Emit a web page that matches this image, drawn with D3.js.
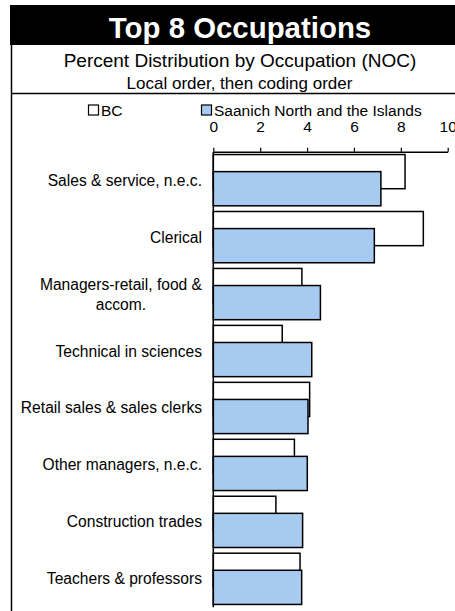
<!DOCTYPE html>
<html>
<head>
<meta charset="utf-8">
<script src="https://cdn.jsdelivr.net/npm/d3@7"></script>
<style>
  html, body { margin: 0; padding: 0; background: #fff; }
  svg { display: block; font-family: "Liberation Sans", Arial, sans-serif; }
</style>
</head>
<body>
<svg id="chart" width="455" height="611"></svg>
<script>
const titleText = "Top 8 Occupations";
const subtitleText = "Percent Distribution by Occupation (NOC)";
const subtitle2Text = "Local order, then coding order";
const seriesNames = ["BC", "Saanich North and the Islands"];
const seriesColors = ["#ffffff", "#a6caf0"];
const categories = [
  "Sales & service, n.e.c.",
  "Clerical",
  "Managers-retail, food & accom.",
  "Technical in sciences",
  "Retail sales & sales clerks",
  "Other managers, n.e.c.",
  "Construction trades",
  "Teachers & professors"
];
const bcValues = [8.18, 8.96, 3.78, 2.94, 4.11, 3.46, 2.67, 3.70];
const localValues = [7.15, 6.87, 4.57, 4.20, 4.04, 4.01, 3.81, 3.77];
const tickValues = [0, 2, 4, 6, 8, 10];

const svg = d3.select("#chart");

// Frame and title band
svg.append("rect").attr("x", 10).attr("y", 5).attr("width", 460).attr("height", 40).attr("fill", "#000");
svg.append("text").attr("x", 240).attr("y", 38).attr("text-anchor", "middle")
  .attr("fill", "#fff").attr("font-weight", "bold").attr("font-size", 29.4).text(titleText);
svg.append("line").attr("x1", 11.5).attr("x2", 11.5).attr("y1", 45).attr("y2", 611)
  .attr("stroke", "#000").attr("stroke-width", 1.5);
svg.append("text").attr("x", 240).attr("y", 67).attr("text-anchor", "middle")
  .attr("font-size", 19).attr("fill", "#000").text(subtitleText);
svg.append("text").attr("x", 239.5).attr("y", 89.3).attr("text-anchor", "middle")
  .attr("font-size", 17).attr("fill", "#000").text(subtitle2Text);
svg.append("line").attr("x1", 11).attr("x2", 455).attr("y1", 93.5).attr("y2", 93.5)
  .attr("stroke", "#000").attr("stroke-width", 1.5);

// Legend
const legendX = [88, 201];
seriesNames.forEach((name, i) => {
  const g = svg.append("g").attr("transform", `translate(${legendX[i]},104.5)`);
  g.append("rect").attr("x", 0.5).attr("y", 0.5).attr("width", 10).attr("height", 10)
    .attr("fill", seriesColors[i]).attr("stroke", "#000").attr("stroke-width", 1.2);
  g.append("text").attr("x", 13).attr("y", 11).attr("font-size", 15.5).attr("fill", "#000").text(name);
});

// Scales
const x = d3.scaleLinear().domain([0, 10]).range([213.3, 447.7]);
const y = d3.scaleBand().domain(categories).range([151.7, 607.3]);
const bw = y.bandwidth();
const barH = bw * 0.6;
const pad = bw * 0.05;

// Top axis
const axis = d3.axisTop(x).tickValues(tickValues).tickSize(4).tickSizeOuter(0).tickPadding(15.5)
  .tickFormat(d3.format("d"));
const ax = svg.append("g").attr("transform", `translate(0,${y.range()[0]})`).call(axis);
ax.select(".domain").attr("stroke", "#000").attr("stroke-width", 1.5);
ax.selectAll(".tick line").attr("stroke", "#000").attr("stroke-width", 1.2);
ax.selectAll(".tick text").attr("font-size", 15.5).attr("fill", "#000")
  .attr("font-family", "Liberation Sans, Arial, sans-serif").attr("dy", "0");

// Bars: BC first, local on top
svg.append("g").selectAll("rect").data(categories).join("rect")
  .attr("x", x(0)).attr("y", (d) => y(d) + pad)
  .attr("width", (d, i) => x(bcValues[i]) - x(0)).attr("height", barH)
  .attr("fill", seriesColors[0]).attr("stroke", "#000").attr("stroke-width", 1.5);
svg.append("g").selectAll("rect").data(categories).join("rect")
  .attr("x", x(0)).attr("y", (d) => y(d) + pad + bw * 0.3)
  .attr("width", (d, i) => x(localValues[i]) - x(0)).attr("height", barH)
  .attr("fill", seriesColors[1]).attr("stroke", "#000").attr("stroke-width", 1.5);

// Left axis line
svg.append("line").attr("x1", x(0)).attr("x2", x(0)).attr("y1", y.range()[0]).attr("y2", y.range()[1])
  .attr("stroke", "#000").attr("stroke-width", 1.5);

// Category labels with wrapping
const labelRight = 202;
const maxW = 185;
const lineH = 20;
categories.forEach((c) => {
  const t = svg.append("text").attr("font-size", 15.6).attr("fill", "#000");
  const words = c.split(" ");
  const lines = [];
  let cur = [];
  const probe = t.append("tspan");
  words.forEach((w) => {
    const trial = cur.concat([w]).join(" ");
    probe.text(trial);
    if (probe.node().getComputedTextLength() > maxW && cur.length) {
      lines.push(cur.join(" "));
      cur = [w];
    } else {
      cur.push(w);
    }
  });
  lines.push(cur.join(" "));
  probe.remove();
  const widths = lines.map((l) => { const p = t.append("tspan").text(l); const wdt = p.node().getComputedTextLength(); p.remove(); return wdt; });
  const blockW = d3.max(widths);
  const cx = labelRight - blockW / 2;
  const cy = y(c) + bw / 2;
  const startY = cy - (lines.length - 1) * lineH / 2 + 5.5;
  lines.forEach((l, k) => {
    t.append("tspan").attr("x", cx).attr("y", startY + k * lineH).attr("text-anchor", "middle").text(l);
  });
});
</script>
</body>
</html>
